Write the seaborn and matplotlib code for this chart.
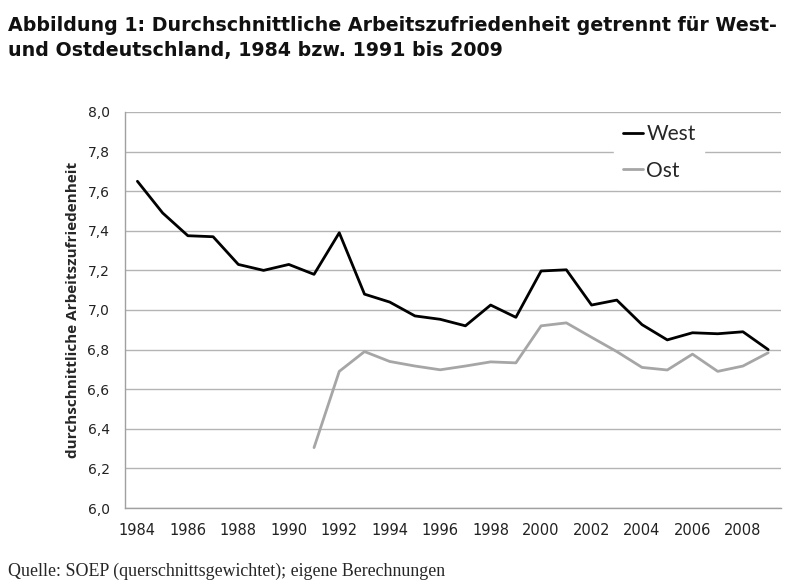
import numpy as np
import pandas as pd
import matplotlib
matplotlib.use("Agg")
import matplotlib.pyplot as plt
import seaborn as sns

# ----- DATA -----
years_west = list(range(1984, 2010))
west = [7.65, 7.49, 7.375, 7.37, 7.23, 7.20, 7.23, 7.18, 7.39, 7.08,
        7.04, 6.97, 6.953, 6.92, 7.025, 6.963, 7.197, 7.203, 7.025, 7.05,
        6.926, 6.849, 6.885, 6.88, 6.89, 6.80]

years_ost = list(range(1991, 2010))
ost = [6.305, 6.69, 6.79, 6.74, 6.717, 6.698, 6.717, 6.738, 6.733, 6.92,
       6.935, 6.862, 6.79, 6.71, 6.697, 6.777, 6.69, 6.717, 6.784]

y_ticks = [6.0, 6.2, 6.4, 6.6, 6.8, 7.0, 7.2, 7.4, 7.6, 7.8, 8.0]
x_labels = list(range(1984, 2010, 2))

df = pd.concat([
    pd.DataFrame({"Jahr": years_west, "Wert": west, "Region": "West"}),
    pd.DataFrame({"Jahr": years_ost, "Wert": ost, "Region": "Ost"}),
])

# ----- PLOT -----
sns.set_style("white")
plt.rcParams["font.family"] = ["DejaVu Sans"]

fig = plt.figure(figsize=(8, 5.85), dpi=100)
ax = fig.add_axes([0.156, 0.1316, 0.82, 0.677])

sns.lineplot(data=df, x="Jahr", y="Wert", hue="Region",
             palette={"West": "#000000", "Ost": "#a6a6a6"},
             linewidth=2.0, ax=ax)

ax.set_xlim(1983.5, 2009.5)
ax.set_ylim(6.0, 8.0)
ax.set_yticks(y_ticks)
ax.set_yticklabels([f"{v:.1f}".replace(".", ",") for v in y_ticks])
ax.set_xticks(x_labels)
ax.set_xticklabels([str(x) for x in x_labels])
ax.set_xticks(np.arange(1983.5, 2010, 1), minor=True)
ax.tick_params(axis="x", which="major", length=0, pad=11, labelsize=10.5, labelcolor="#222222")
ax.tick_params(axis="x", which="minor", length=5, color="#a0a0a0", direction="out")
ax.tick_params(axis="y", length=5, color="#a0a0a0", labelsize=10, labelcolor="#222222", pad=6)

ax.grid(axis="y", color="#b4b4b4", linewidth=1.0)
ax.set_axisbelow(True)
for side in ["top", "right"]:
    ax.spines[side].set_visible(False)
for side in ["left", "bottom"]:
    ax.spines[side].set_color("#a0a0a0")
    ax.spines[side].set_linewidth(1.0)

ax.set_xlabel("")
ax.set_ylabel("durchschnittliche Arbeitszufriedenheit", fontsize=11,
              fontweight="bold", family=["Open Sans"], labelpad=5)

leg = ax.legend(loc="upper left", bbox_to_anchor=(0.746, 0.99), borderaxespad=0,
                frameon=True, facecolor="white", edgecolor="white", framealpha=1.0,
                handlelength=1.0, handletextpad=0.15, labelspacing=0.78,
                prop={"family": "Lato", "size": 15})

# Titel (zwei Zeilen) und Quelle
fig.text(0.01, 1 - 31 / 585, "Abbildung 1: Durchschnittliche Arbeitszufriedenheit getrennt für West-",
         fontsize=13.7, fontweight="bold", family="DejaVu Sans",
         va="baseline", ha="left", color="#111111")
fig.text(0.01, 1 - 56 / 585, "und Ostdeutschland, 1984 bzw. 1991 bis 2009",
         fontsize=13.7, fontweight="bold", family="DejaVu Sans",
         va="baseline", ha="left", color="#111111")

fig.text(0.01, 1 - 576 / 585, "Quelle: SOEP (querschnittsgewichtet); eigene Berechnungen",
         fontsize=12.9, family="Liberation Serif", va="baseline", ha="left")

fig.savefig("out.png", dpi=100)
